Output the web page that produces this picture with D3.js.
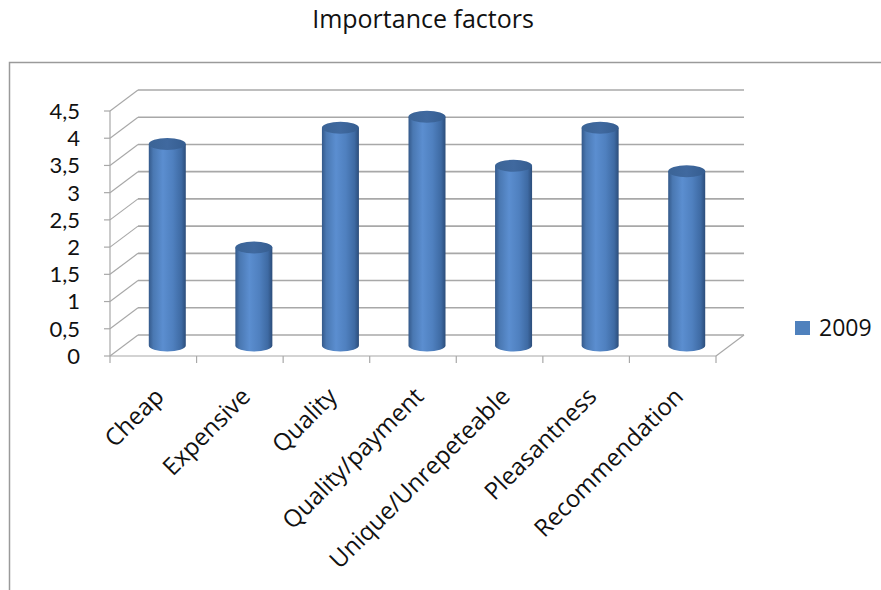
<!DOCTYPE html>
<html><head><meta charset="utf-8">
<script src="https://cdn.jsdelivr.net/npm/d3@7"></script>
<style>body{margin:0;background:#fff}svg{display:block}text{font-family:"Open Sans",sans-serif;fill:#111}text.yt{font-family:Lato,"Open Sans",sans-serif}</style>
</head><body>
<svg id="c" width="881" height="590"></svg>
<script>
const categories = ["Cheap","Expensive","Quality","Quality/payment","Unique/Unrepeteable","Pleasantness","Recommendation"];
const values2009 = [3.7,1.8,4.0,4.2,3.3,4.0,3.2];
const yTicks = [0,0.5,1,1.5,2,2.5,3,3.5,4,4.5];
const yTickLabels = ["0","0,5","1","1,5","2","2,5","3","3,5","4","4,5"];
const seriesName = "2009";
const title = "Importance factors";

const svg = d3.select("#c");
const x0 = 110, x1 = 716, yBase = 356, yTop = 111;
const DX = 28, DY = -21;
const x = d3.scaleBand().domain(categories).range([x0, x1]);
const y = d3.scaleLinear().domain([0, 4.5]).range([yBase, yTop]);
const gridC = "#a8a8a8";

svg.append("path").attr("d", `M9.5,590 V62.5 H881`).attr("fill","none").attr("stroke","#9a9a9a").attr("stroke-width",1.5);

svg.append("text").attr("x",423).attr("y",28).attr("text-anchor","middle").style("font-size","25px").text(title);

const g = svg.append("g");
yTicks.forEach(v => {
  const yy = y(v);
  g.append("line").attr("x1", x0 + DX).attr("x2", x1 + DX).attr("y1", yy + DY).attr("y2", yy + DY).attr("stroke", gridC).attr("stroke-width", 1.6);
  g.append("line").attr("x1", x0).attr("y1", yy).attr("x2", x0 + DX).attr("y2", yy + DY).attr("stroke", gridC).attr("stroke-width", 1.2);
  g.append("line").attr("x1", x0 - 6).attr("x2", x0).attr("y1", yy).attr("y2", yy).attr("stroke", gridC).attr("stroke-width", 1.2);
});
g.append("line").attr("x1", x0).attr("x2", x0).attr("y1", yTop).attr("y2", yBase).attr("stroke", gridC).attr("stroke-width", 1.2);
g.append("line").attr("x1", x0).attr("x2", x1).attr("y1", yBase).attr("y2", yBase).attr("stroke", gridC).attr("stroke-width", 1.2);
g.append("line").attr("x1", x1).attr("y1", yBase).attr("x2", x1 + DX).attr("y2", yBase + DY).attr("stroke", gridC).attr("stroke-width", 1.2);
const bounds = categories.map(c => x(c)).concat([x1]);
bounds.forEach(b => g.append("line").attr("x1", b).attr("x2", b).attr("y1", yBase).attr("y2", yBase + 7).attr("stroke", gridC).attr("stroke-width", 1.2));

yTicks.forEach((v, i) => {
  svg.append("text").attr("class", "yt").attr("x", 80).attr("y", y(v)).attr("dy", "0.36em").attr("text-anchor", "end").style("font-size", "22px").text(yTickLabels[i]);
});

const defs = svg.append("defs");
const lg = defs.append("linearGradient").attr("id", "cyl").attr("x1", "0").attr("x2", "1").attr("y1", "0").attr("y2", "0");
[["0%","#34598a"],["12%","#4a78b2"],["38%","#5b8ed0"],["65%","#4f80bf"],["88%","#3e6aa3"],["100%","#2c4d7a"]].forEach(s => lg.append("stop").attr("offset", s[0]).attr("stop-color", s[1]));
const lt = defs.append("linearGradient").attr("id", "cylTop").attr("x1", "0").attr("x2", "1").attr("y1", "0").attr("y2", "0");
[["0%","#3b6496"],["50%","#40699f"],["100%","#355d90"]].forEach(s => lt.append("stop").attr("offset", s[0]).attr("stop-color", s[1]));

const bw = 37, ry = 6;
const bars = g.selectAll(".bar").data(categories).enter().append("g");
bars.each(function(c, i) {
  const cx = x(c) + x.bandwidth() / 2 + DX / 2;
  const yb = y(0) + DY / 2, yt = y(values2009[i]) + DY / 2;
  const l = cx - bw / 2, r = cx + bw / 2, rx = bw / 2;
  d3.select(this).append("path")
    .attr("d", `M${l},${yt} L${l},${yb} A${rx},${ry} 0 0 0 ${r},${yb} L${r},${yt} Z`)
    .attr("fill", "url(#cyl)");
  d3.select(this).append("ellipse").attr("cx", cx).attr("cy", yt).attr("rx", rx).attr("ry", ry).attr("fill", "url(#cylTop)");
});

categories.forEach(c => {
  const cx = x(c) + x.bandwidth() / 2;
  svg.append("text").attr("transform", `translate(${cx + 12},${yBase + 42}) rotate(-45)`)
    .attr("text-anchor", "end").style("font-size", "24px").text(c);
});

svg.append("rect").attr("x", 795).attr("y", 321).attr("width", 15).attr("height", 14).attr("fill", "#4f81bd");
svg.append("text").attr("x", 819).attr("y", 336).style("font-size", "23px").text(seriesName);
</script>
</body></html>
